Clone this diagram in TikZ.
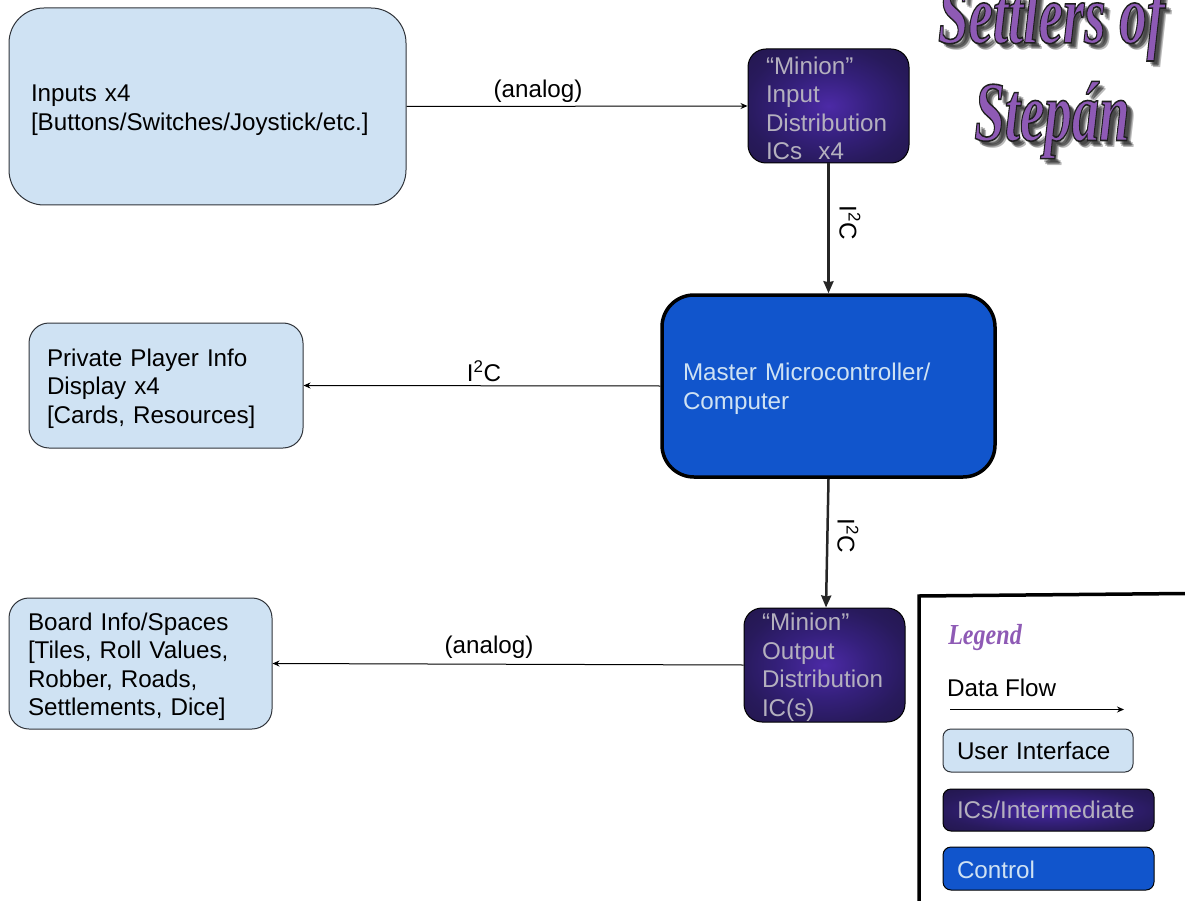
\documentclass[tikz,border=0pt]{standalone}
\usepackage{fontspec}
\setmainfont{Liberation Sans}
\newfontfamily\headfont{Liberation Serif}
\usetikzlibrary{arrows.meta}
\definecolor{uifill}{HTML}{CFE2F3}
\definecolor{ctrlfill}{HTML}{1155CC}
\definecolor{icinner}{HTML}{4C2AA6}
\definecolor{icmid}{HTML}{35207C}
\definecolor{icedge}{HTML}{281A5C}
\definecolor{icouter}{HTML}{1C1338}
\definecolor{ictext}{HTML}{B4B0BE}
\definecolor{titlepurple}{HTML}{8E5AB5}
\definecolor{edgegray}{HTML}{30343A}
\pgfdeclareradialshading{icglow}{\pgfpoint{0bp}{0bp}}{color(0bp)=(icinner); color(14bp)=(icmid); color(26bp)=(icedge); color(50bp)=(icouter)}
\tikzset{
  bodytext/.style={font=\fontsize{24.2}{28.5}\selectfont},
  lowtext/.style={inner ysep=0pt,execute at begin node={\rule{0pt}{#1}}},
  uibox/.style={shape=rectangle,draw=edgegray,fill=uifill,line width=1pt,align=left,text=black,bodytext},
  icbox/.style={shape=rectangle,draw=black,line width=1pt,shading=icglow,align=left,text=ictext,bodytext},
  ctrlbox/.style={shape=rectangle,draw=black,fill=ctrlfill,align=left,text=uifill,bodytext},
  flow/.style={-{Stealth[length=7pt,width=6pt]},line width=1pt,black},
  link/.style={-{Stealth[length=12pt,width=10pt,inset=1pt]},line width=2.5pt,black!85},
  tag/.style={bodytext,text=black,inner sep=0pt},
  titleword/.style={font=\headfont\bfseries\itshape\fontsize{85}{85}\selectfont,inner sep=0pt,xscale=0.645,transform shape}
}
\newcommand{\drawtitle}[3]{%
  % soft shadow, then the outlined word
  \foreach \sx/\sy in {4/4,5/6,6/5,7/7}
    \node[titleword,text=black,opacity=0.27] at (#1+\sx,#2+\sy) {#3};
  \node[titleword,text=titlepurple] at (#1,#2)
    {\special{pdf:code 2 Tr 1.6 w 0.12 0.12 0.12 RG}#3\special{pdf:code 0 Tr}};
}
\begin{document}
\begin{tikzpicture}[x=1pt,y=-1pt]
\useasboundingbox (0,0) rectangle (1185,901);
% title
\begin{scope}
\clip (0,0) rectangle (1185,901);
\drawtitle{1051.5}{22}{Settlers of}
\drawtitle{1052}{120}{Stepán}
\end{scope}
% main blocks
\node[uibox,lowtext=24pt,rounded corners=35pt,minimum height=197pt,inner xsep=22pt,text width=353pt] (inputs) at (207.5,106.5)
  {Inputs x4\\{[Buttons/Switches/Joystick/etc.]}};
\node[icbox,lowtext=22pt,rounded corners=18pt,minimum height=114pt,inner xsep=18pt,text width=125pt] (minionin) at (828.5,106)
  {“Minion”\\Input\\Distribution\\ICs\ \ x4};
\node[ctrlbox,lowtext=23pt,line width=3.5pt,rounded corners=32pt,minimum height=182pt,inner xsep=21pt,text width=291pt] (master) at (828.5,386)
  {Master Microcontroller/\\Computer};
\node[uibox,lowtext=24pt,rounded corners=20pt,minimum height=125pt,inner xsep=18pt,text width=238pt] (private) at (166,385.5)
  {Private Player Info\\Display x4\\{[Cards, Resources]}};
\node[uibox,lowtext=24pt,rounded corners=20pt,minimum height=131pt,inner xsep=19pt,text width=225pt] (board) at (140.5,663.5)
  {Board Info/Spaces\\{[Tiles, Roll Values,}\\Robber, Roads,\\Settlements, Dice]};
\node[icbox,lowtext=22pt,rounded corners=18pt,minimum height=114pt,inner xsep=18pt,text width=125pt] (minionout) at (824.5,665)
  {“Minion”\\Output\\Distribution\\IC(s)};
% connectors
\draw[flow] (inputs.east) -- (minionin.west);
\draw[link] (minionin.south) -- (master.north);
\draw[flow] (master.west) -- (private.east);
\draw[link] (master.south) -- (minionout.north -| 826,0);
\draw[flow] (minionout.west) -- (board.east);
% connector labels
\node[tag] (analogtop) at (538,91) {(analog)};
\node[tag,rotate=-90] (ictop) at (850,223) {I\textsuperscript{2}C};
\node[tag] (icleft) at (484,371) {I\textsuperscript{2}C};
\node[tag,rotate=-90] (icbottom) at (848,536) {I\textsuperscript{2}C};
\node[tag] (analogbottom) at (489,647) {(analog)};
% legend
\coordinate (framea) at (919,901);
\coordinate (frameb) at (919,596);
\coordinate (framec) at (1185,593.5);
\draw[line width=3.5pt,black,line join=miter] (framea) -- (frameb) -- (framec);
\node[font=\headfont\bfseries\itshape\fontsize{29}{29}\selectfont,text=titlepurple,inner sep=0pt,xscale=0.83,transform shape] (legendtitle) at (985,638) {Legend};
\node[tag,anchor=west] (flowtext) at (947,688) {Data Flow};
\coordinate (flowa) at (950,709.5);
\coordinate (flowb) at (1124,709.5);
\draw[flow] (flowa) -- (flowb);
\node[uibox,rounded corners=8pt,minimum height=43pt,inner xsep=14pt,text width=162pt] (legendui) at (1038,750.5) {User Interface};
\node[icbox,rounded corners=8pt,minimum height=42pt,inner xsep=14pt,text width=183pt] (legendic) at (1048.5,810) {ICs/Intermediate};
\node[ctrlbox,lowtext=21pt,line width=1pt,rounded corners=8pt,minimum height=43pt,inner xsep=14pt,text width=183pt] (legendctrl) at (1048.5,868.5) {Control};
\end{tikzpicture}
\end{document}
